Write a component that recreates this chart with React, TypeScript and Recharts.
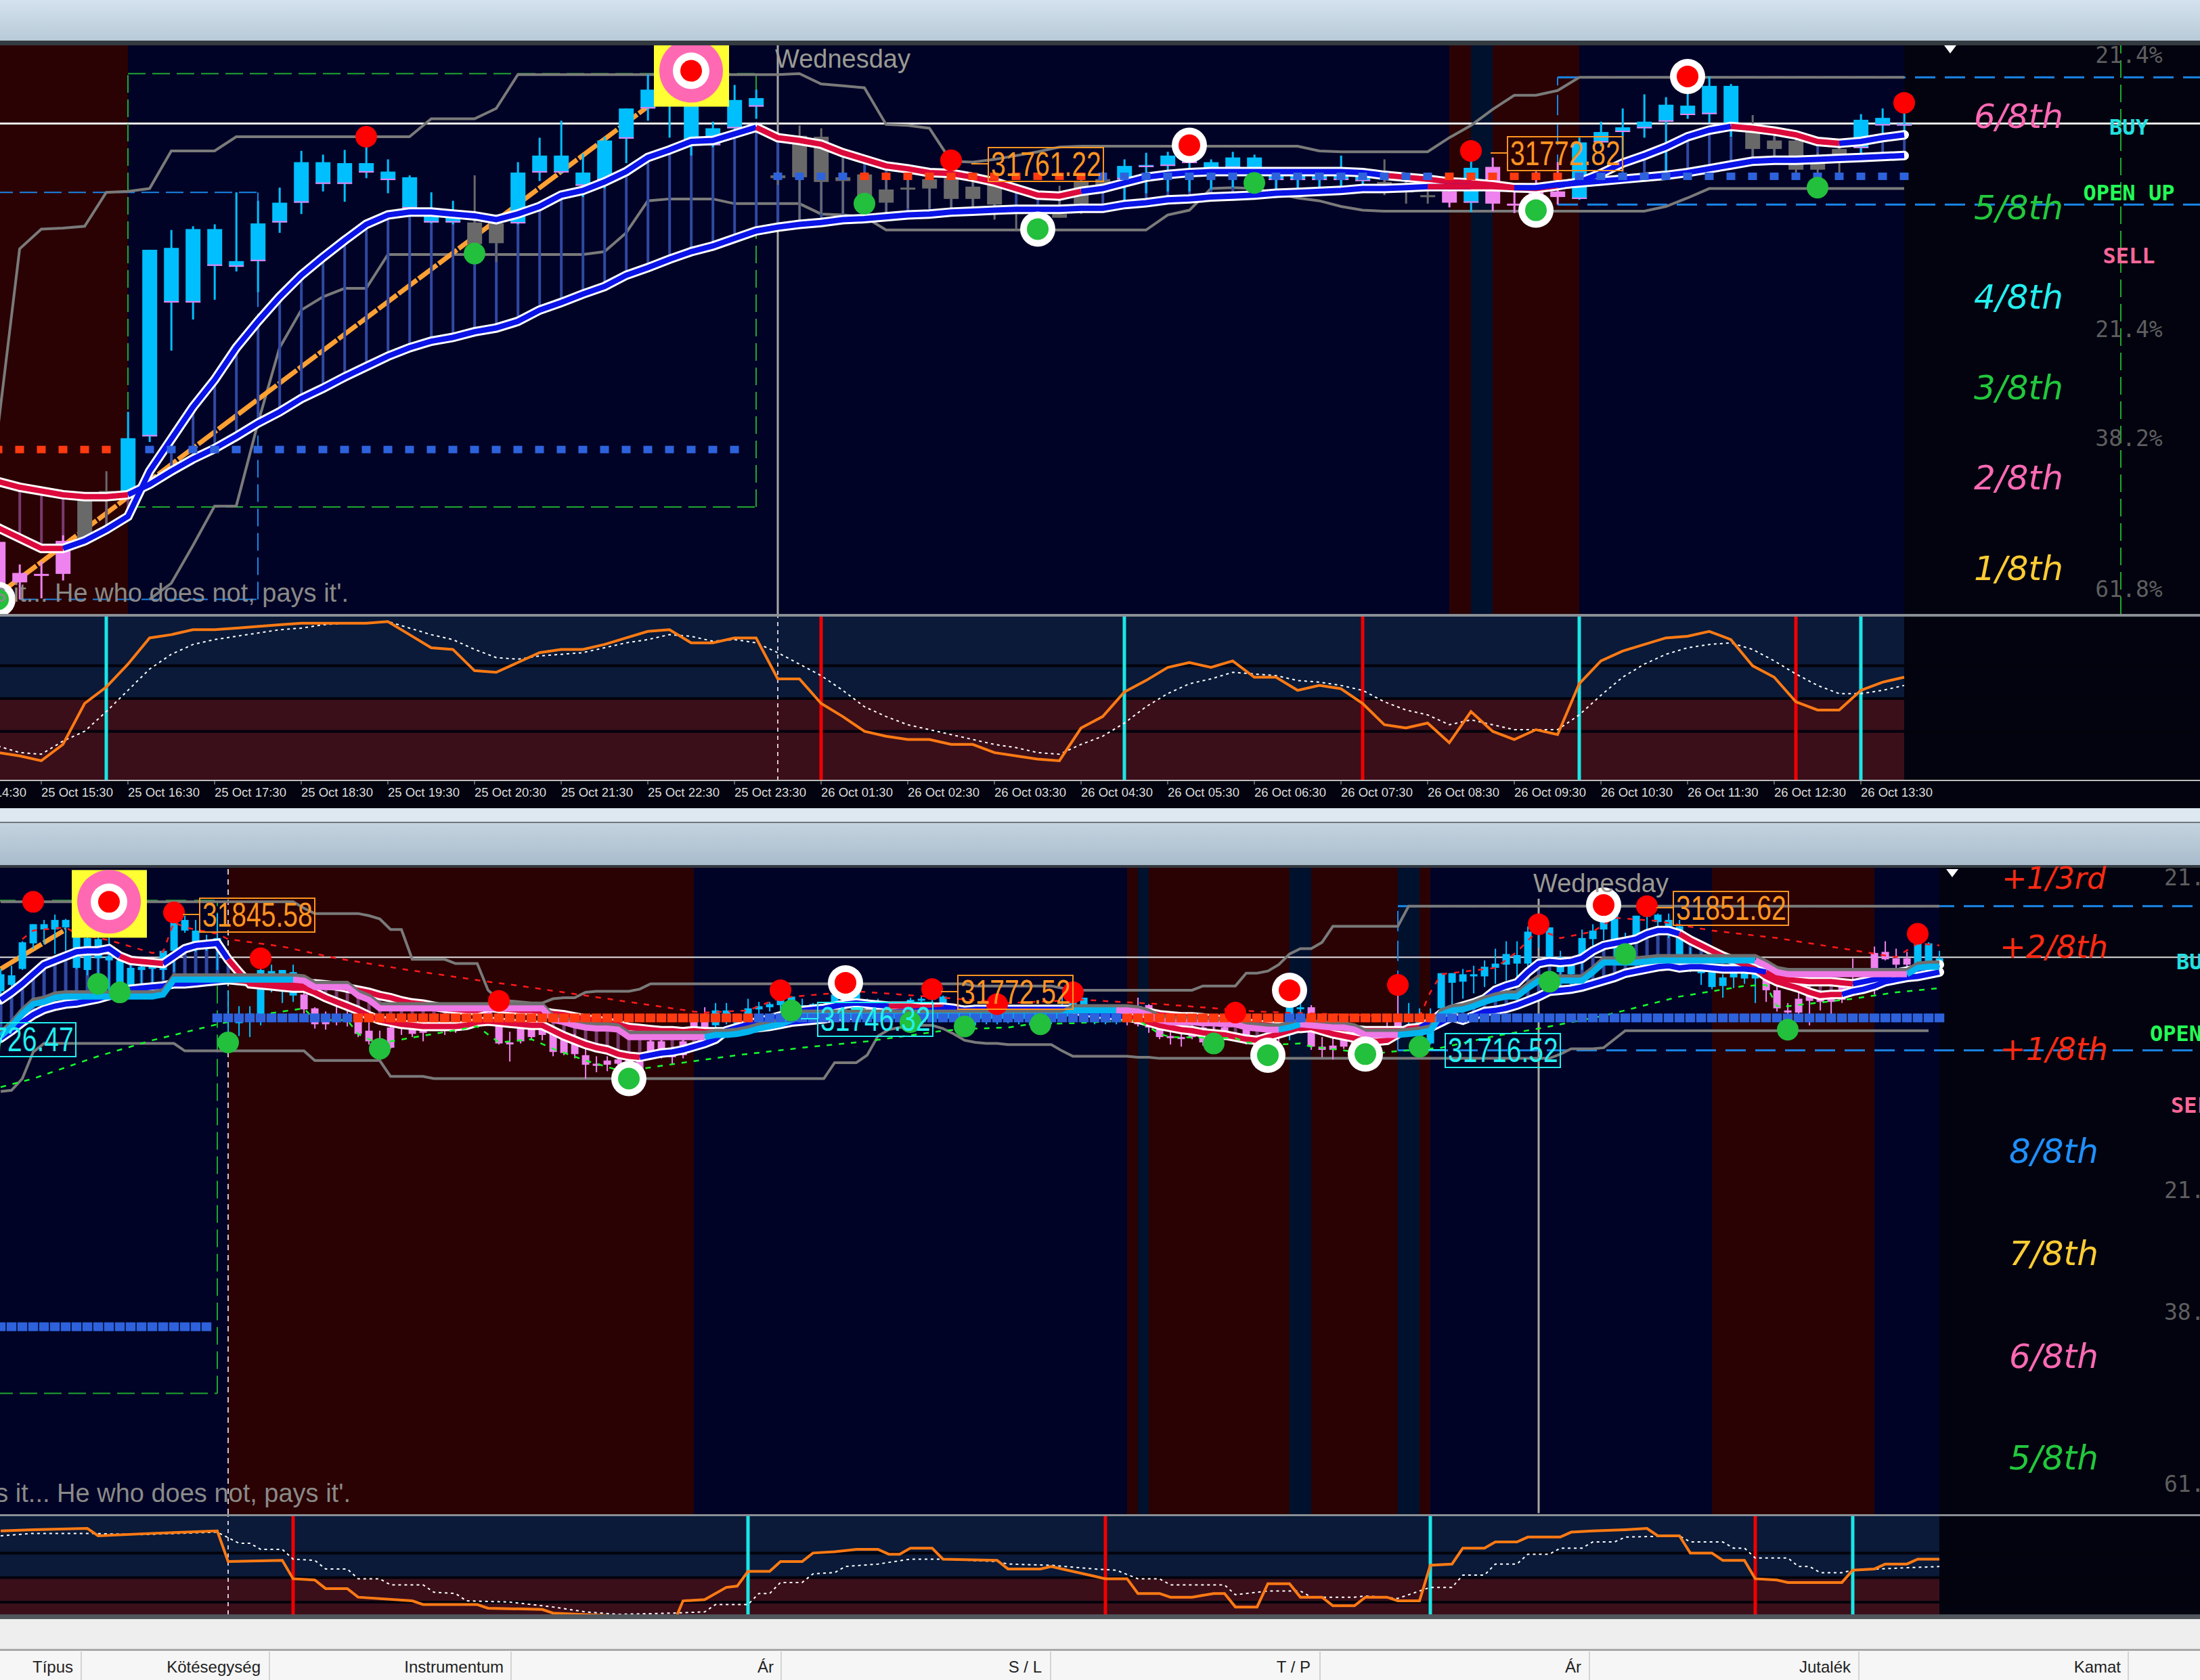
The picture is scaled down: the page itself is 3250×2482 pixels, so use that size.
import React from "react";
import { ComposedChart, Bar, Line, XAxis, YAxis, ReferenceArea, ReferenceLine } from "recharts";

const BASE = 31000; // every level below is "points above 31000"

// ---------- upper window: [high, bodyTop, bodyBottom, low] per 15-minute bar ----------
const topCandles = [
[366,359,309,292],[335,326,316,298],[338,325,324,299],[366,360,325,318],[411,403,363,360],[434,413,411,372],[497,469,411,411],[669,669,471,465],[690,671,613,562],[694,691,613,595],
[696,691,652,616],[730,657,651,646],[721,697,657,624],[735,719,698,687],[774,762,719,707],[770,762,739,731],[775,761,739,720],[789,761,751,745],[765,752,743,729],[748,746,713,710],
[730,711,698,697],[721,704,698,696],[748,698,675,656],[701,697,676,656],[762,751,697,696],[788,769,751,742],[806,769,751,750],[771,751,737,725],[789,785,743,734],[819,819,787,761],
[855,839,819,806],[839,839,822,788],[859,822,785,769],[805,798,780,778],[844,828,798,797],[839,830,821,808],[752,748,745,738],[801,790,746,696],[798,789,741,707],[770,746,742,707],
[752,749,719,710],[747,733,719,701],[750,735,733,713],[755,744,734,713],[767,745,723,710],[747,736,723,707],[747,738,717,701],[717,709,707,690],[715,709,707,688],[737,707,703,703],
[744,741,718,707],[752,744,738,730],[765,758,744,721],[772,759,758,729],[773,769,758,731],[779,769,761,731],[765,762,754,733],[773,767,756,735],[770,767,744,724],[750,748,743,724],
[750,748,743,727],[750,748,743,730],[769,748,743,730],[752,749,742,730],[765,741,740,727],[747,732,730,718],[733,727,726,718],[750,731,719,714],[774,756,719,709],[767,757,718,710],
[731,718,717,708],[752,733,716,708],[762,731,725,717],[788,783,723,722],[805,794,783,779],[819,799,794,758],[834,805,798,788],[831,823,805,752],[853,822,812,808],[853,843,813,804],
[845,843,802,789],[812,794,776,768],[790,785,776,768],[789,785,754,751],[772,769,754,733],[781,776,769,750],[813,807,777,770],[819,809,801,790],[823,803,802,788],
];
const topCandleKinds = [[0,3,"p"],[4,5,"g"],[6,21,"u"],[22,23,"g"],[24,35,"u"],[36,51,"g"],[52,63,"u"],[64,66,"g"],[67,67,"p"],[68,68,"u"],[69,72,"p"],[73,80,"u"],[81,85,"g"],[86,88,"u"]];
const topFast = [374,363,352,352,360,372,386,434,468,502,531,565,593,619,642,661,679,696,706,709,709,707,705,701,707,715,727,732,741,752,767,775,784,785,792,799,788,785,781,772,765,758,755,751,750,746,741,734,727,726,731,734,740,746,749,751,752,752,752,752,752,752,752,751,748,746,744,741,740,738,735,734,737,741,750,761,769,778,789,796,800,798,795,791,784,782,784,788,791];
const topSlow = [423,417,413,409,407,407,409,420,434,447,458,471,485,497,511,522,534,545,556,565,572,576,582,586,593,605,613,622,630,642,650,659,667,673,681,689,693,696,698,701,702,704,706,707,709,710,711,712,712,712,713,713,717,719,722,723,725,726,727,729,730,731,732,734,734,735,736,736,736,736,735,735,738,740,742,744,746,748,751,755,759,763,764,764,765,766,767,768,769];
const topFastRed = [[0,3],[35,50],[64,67],[68,72],[80,85]];
const topSlowRed = [[0,6],[66,67],[68,70]];
const topChannelUp = [480,670,691,692,694,730,731,734,774,774,774,789,789,789,789,789,789,789,789,789,808,808,808,819,855,855,855,855,855,855,855,855,855,855,855,855,855,856,845,843,841,802,801,798,763,762,765,769,773,778,779,779,779,779,779,779,779,779,779,779,779,774,773,773,773,773,773,788,801,818,833,833,838,852,852,852,852,852,852,852,852,852,852,852,852,852,852,852,852];
const topChannelLow = [null,null,null,null,null,null,null,298,315,355,397,397,485,565,605,619,628,628,664,664,664,664,664,664,664,664,664,664,667,687,721,723,723,723,718,718,718,718,707,706,704,690,690,690,690,690,690,690,690,690,690,690,690,690,706,711,734,735,734,729,724,721,715,711,710,710,710,710,710,710,710,710,710,710,710,710,710,715,724,734,734,734,734,734,734,734,734,734,734];
const topTrend = [[0,303],[30,821]];
const topSquares = [[0,5,457,"r"],[7,34,457,"b"],[36,39,747,"b"],[40,50,747,"r"],[51,66,747,"b"],[67,72,747,"r"],[73,88,747,"b"]];
const topRedDots = [[17,789],[44,764],[68,774],[88,825]];
const topRedRings = [[55,780],[78,853]];
const topGreenDots = [[22,665],[40,718],[58,740],[84,735]];
const topGreenRings = [[0,298],[48,691],[71,711]];
const topBullseye = [[32,859]];
const topRedZones = [[-3.5,6],[67,68],[69,73]];
const topNavyStripes = [[68,69]];

// indicator under the upper window (0-100)
const topOsc = [17,15,12,22,47,57,71,87,89,92,92,93,94,95,96,96,96,96,97,89,81,80,67,66,72,78,80,80,83,87,91,92,84,84,87,87,62,62,47,39,30,27,25,25,22,22,17,15,13,12,32,39,54,61,69,72,69,73,63,63,55,58,56,47,34,32,35,23,42,30,25,31,28,59,73,79,83,87,88,91,86,70,63,48,43,43,55,60,63];
const topSignal = [21,17,16,24,30,42,55,68,77,83,86,88,90,92,93,95,96,96,97,93,89,86,80,75,74,76,77,78,81,84,86,89,88,85,86,84,78,71,64,55,45,39,34,31,28,25,22,20,17,16,22,27,35,45,53,59,62,66,65,64,61,60,58,55,48,43,40,34,37,34,31,31,31,40,52,63,71,77,81,83,84,80,73,65,58,53,53,55,58];
const topCyanMarks = [5,52,73,86];
const topRedMarks = [38,63,83];
const topTickBars = [-2,2,6,10,14,18,22,26,30,34,38,42,46,50,54,58,62,66,70,74,78,82,86];
const topTickLabels = ["25 Oct 14:30","25 Oct 15:30","25 Oct 16:30","25 Oct 17:30","25 Oct 18:30","25 Oct 19:30","25 Oct 20:30","25 Oct 21:30","25 Oct 22:30","25 Oct 23:30","26 Oct 01:30","26 Oct 02:30","26 Oct 03:30","26 Oct 04:30","26 Oct 05:30","26 Oct 06:30","26 Oct 07:30","26 Oct 08:30","26 Oct 09:30","26 Oct 10:30","26 Oct 11:30","26 Oct 12:30","26 Oct 13:30"];

// ---------- lower window: [high, bodyTop, bodyBottom, low] per bar ----------
const lowCandles = [
[793,788,772,766],[796,787,778,771],[819,818,793,792],[835,835,817,812],[839,835,830,816],[844,839,830,807],[840,839,832,810],[838,832,794,793],[837,822,792,787],[832,821,803,771],
[855,805,801,771],[802,801,777,772],[798,794,777,775],[801,795,792,776],[799,797,793,776],[811,810,792,783],[845,838,810,790],[843,839,829,827],[839,829,817,809],[825,818,815,810],
[845,822,817,792],[773,747,744,720],[758,750,742,730],[758,751,746,729],[801,792,745,740],[797,791,779,771],[792,792,774,761],[797,790,768,762],[773,769,755,751],[757,756,741,737],
[753,746,741,736],[763,747,743,740],[756,747,743,739],[750,749,732,729],[743,735,725,722],[735,723,720,717],[739,738,719,718],[750,739,737,731],[741,738,732,729],[741,738,733,725],
[749,741,737,735],[751,741,735,731],[750,744,735,733],[755,754,743,741],[753,751,744,742],[756,754,745,741],[748,748,723,722],[734,724,723,706],[747,741,725,723],[742,741,729,726],
[747,737,731,726],[738,737,715,711],[729,728,714,712],[732,728,713,709],[718,712,703,690],[711,704,702,696],[711,707,703,697],[709,708,704,700],[709,708,695,689],[711,710,695,691],
[737,725,710,709],[736,725,713,709],[720,712,711,703],[738,725,712,709],[751,748,734,733],[757,749,737,734],[761,754,740,734],[761,754,743,741],[751,745,741,737],[765,756,743,741],
[762,758,755,749],[762,760,757,753],[771,767,759,751],[767,767,747,745],[765,759,748,746],[761,760,750,749],[760,755,747,745],[775,769,754,751],[778,776,768,766],[778,776,760,758],
[765,760,756,754],[765,761,756,754],[762,760,756,754],[758,756,751,749],[766,764,753,750],[767,765,764,760],[772,767,764,760],[768,767,755,753],[759,757,753,751],[755,754,749,745],
[752,749,743,740],[755,749,744,741],[754,750,743,741],[750,749,744,742],[749,748,744,741],[749,748,743,740],[748,747,743,741],[749,748,744,741],[768,756,748,745],[768,765,749,746],
[766,766,757,745],[750,748,743,741],[749,748,743,741],[750,749,743,741],[751,749,743,740],[766,758,741,739],[760,759,738,733],[740,739,729,727],[737,730,728,722],[733,729,728,720],
[741,739,729,727],[739,738,724,721],[739,732,724,718],[743,738,729,726],[729,729,728,726],[736,736,724,722],[726,725,718,715],[733,732,719,710],[737,732,730,720],[772,757,731,726],
[767,757,756,745],[759,757,720,717],[729,720,717,710],[728,721,717,708],[732,728,720,718],[728,727,717,714],[724,717,711,709],[739,728,711,709],[750,738,736,733],[781,747,736,733],
[761,750,744,741],[756,750,730,718],[756,748,723,722],[789,789,756,751],[789,789,780,756],[793,788,781,765],[796,788,786,770],[801,795,786,776],[812,798,794,779],[819,807,797,782],
[819,806,798,783],[833,828,798,792],[843,833,827,813],[832,832,804,798],[810,804,790,777],[804,804,788,775],[830,822,801,792],[835,829,821,815],[852,848,830,820],[848,848,812,804],
[827,819,812,802],[843,843,822,819],[852,845,842,830],[845,844,837,830],[845,839,832,822],[839,833,805,803],[813,802,794,790],[807,798,789,778],[798,790,776,774],[788,785,777,766],
[795,791,785,775],[794,791,784,779],[794,789,784,761],[788,787,773,762],[783,773,756,753],[761,754,753,732],[771,765,752,750],[779,769,763,740],[773,769,762,754],[771,766,762,750],
[781,777,764,761],[803,783,777,771],[790,783,772,771],[814,808,773,769],[819,809,802,801],[812,803,797,788],[809,803,797,790],[824,819,798,797],[818,817,798,797],[810,803,799,794],
];
const lowCandleKinds = [[0,27,"u"],[28,65,"p"],[66,103,"u"],[104,118,"p"],[119,120,"u"],[121,129,"p"],[130,162,"u"],[163,176,"p"],[177,179,"u"]];
const lowFast = [764,771,779,788,797,801,805,809,810,810,812,805,801,800,799,798,805,812,815,816,817,802,790,779,778,777,776,775,775,771,766,762,758,754,749,745,743,741,740,739,739,739,739,740,743,
744,743,742,741,740,740,735,730,726,722,719,717,713,711,710,712,714,715,717,720,723,727,735,738,741,744,746,749,751,754,755,756,758,760,761,760,759,758,758,758,757,757,757,756,754,
754,754,754,754,754,754,754,754,754,754,753,751,750,749,748,746,743,740,738,736,735,733,732,731,729,727,726,729,732,735,738,738,735,732,730,728,726,725,726,732,737,738,743,751,755,
758,761,765,773,777,780,790,798,800,799,800,803,810,815,817,819,821,826,829,829,826,820,815,810,805,801,797,793,786,781,778,775,771,768,769,769,772,774,777,781,783,785,786,788,790];
const lowSlow = [728,735,743,750,755,758,760,761,763,765,768,772,774,775,776,777,779,779,780,781,782,783,782,781,780,780,780,780,779,779,778,777,775,773,771,768,766,763,761,760,758,756,755,754,754,
757,756,755,754,754,753,751,750,748,746,745,743,741,738,737,736,735,735,734,735,734,734,734,735,737,738,739,741,743,744,745,746,748,749,750,751,751,752,753,753,754,754,755,755,754,
755,755,755,755,755,755,755,755,755,755,755,754,754,754,754,753,752,750,749,748,748,747,746,745,743,742,741,740,739,738,737,738,738,738,737,736,735,735,735,735,735,735,738,743,748,
745,749,753,754,756,759,763,767,772,773,774,776,779,782,785,789,791,793,795,796,794,795,795,794,793,793,793,792,790,786,783,782,781,781,781,780,779,781,783,785,789,791,793,795,797];
const lowFastRed = [[11,15],[21,59],[82,87],[104,131],[155,170]];
const lowSlowRed = [[21,66],[104,131],[163,171]];
const lowBand = [730,739,751,760,762,766,767,767,767,767,767,767,767,767,767,769,783,783,783,783,783,783,783,783,783,783,783,783,782,776,776,776,776,768,764,756,756,756,756,756,756,756,756,756,756,756,756,756,756,756,756,
745,743,740,738,737,737,736,729,729,729,729,729,729,729,729,731,731,732,734,737,739,741,745,749,749,749,749,749,749,749,749,749,749,749,749,749,749,749,749,749,749,749,749,749,749,749,749,749,
754,754,754,754,754,754,753,750,745,743,743,743,742,742,741,741,738,737,736,736,738,741,740,739,738,738,736,731,731,731,731,732,733,735,750,754,
755,758,762,765,767,767,775,782,782,782,782,782,790,799,799,799,799,800,801,801,801,801,801,801,801,801,801,801,796,790,788,788,788,788,788,788,788,788,788,788,788,788,794,795,795];
const lowBandPink = [[27,65],[103,118],[120,129],[162,176]];
const lowChannelUp = [856,856,856,856,856,856,856,856,856,856,856,856,856,856,856,856,856,856,856,856,856,856,856,856,856,856,856,856,850,845,845,845,845,845,843,840,830,830,802,802,802,802,798,798,798,
773,764,763,762,761,761,765,766,766,771,772,772,772,772,774,779,779,779,779,779,779,779,779,779,779,779,779,779,779,779,779,779,779,779,779,779,779,779,779,779,779,779,779,779,779,
777,777,777,777,777,777,777,777,775,774,773,773,773,773,773,773,773,773,773,773,773,777,777,777,777,789,789,791,797,807,812,812,818,833,833,833,833,833,833,833,
852,852,852,852,852,852,852,852,852,852,852,852,852,852,852,852,852,852,852,852,852,852,852,852,852,852,852,852,852,852,852,852,852,852,852,852,852,852,852,852,852,852,852,852,852,852,852,852,852,852];
const lowChannelLow = [678,679,690,715,723,723,723,723,723,723,723,723,723,723,723,723,723,716,716,716,716,716,716,716,716,716,716,716,716,707,707,707,707,707,707,707,692,692,692,692,690,
690,690,690,690,690,690,690,690,690,690,690,690,690,690,690,690,690,690,690,690,690,690,690,690,690,690,690,690,690,690,690,690,690,690,690,690,705,705,705,712,730,736,738,739,740,740,737,732,726,
724,723,723,722,722,722,722,722,716,711,711,711,711,711,711,710,710,709,709,709,709,709,709,709,709,709,709,709,709,709,709,709,709,709,709,709,709,709,709,709,709,709,709,709,709,709,709,709,709,709,709,709,709,
709,713,718,718,718,719,727,735,735,735,735,735,735,735,735,735,735,735,735,735,735,735,735,735,735,735,735,735,735,735,735,735,735,735,735,735];
const lowTrend = [[0,793],[6,830]];
const lowGreenDotted = [[0,682],[3,690],[9,711],[14,726],[20,741],[24,750],[28,756],[29,745],[32,745],[33,732],[35,722],[36,725],[40,732],[44,739],[46,724],[49,727],[51,718],[54,707],[57,698],[59,699],[63,705],[68,712],[74,719],[80,725],[87,735],[90,737],[93,738],[95,741],[99,742],[105,745],[107,732],[108,729],[114,728],[115,724],[118,722],[120,723],[121,720],[127,713],[128,715],[133,719],[138,730],[142,737],[148,749],[155,767],[161,777],[163,778],[164,758],[165,758],[171,765],[175,771],[179,775]];
const lowRedDotted = [[2,821],[3,829],[6,832],[7,826],[10,820],[14,808],[15,809],[16,837],[17,832],[20,826],[21,821],[26,814],[31,803],[37,793],[45,781],[48,777],[54,768],[64,753],[65,752],[69,754],[72,766],[79,772],[87,766],[93,761],[100,764],[107,760],[116,753],[127,749],[131,748],[132,771],[133,788],[138,794],[140,809],[142,830],[144,822],[147,828],[149,841],[153,838],[158,829],[164,822],[172,809],[175,804],[177,817],[179,815]];
const lowSquares = [[0,19,457,"b"],[20,32,747,"b"],[33,69,747,"r"],[70,103,747,"b"],[104,118,747,"r"],[119,120,747,"b"],[121,132,747,"r"],[133,179,747,"b"]];
const lowRedDots = [[3,856],[16,846],[24,803],[46,763],[72,773],[86,774],[92,760],[99,771],[114,752],[129,778],[142,835],[152,852],[177,826]];
const lowRedRings = [[78,780],[119,773],[148,853]];
const lowGreenDots = [[9,779],[11,771],[21,724],[35,718],[73,754],[84,743],[89,739],[96,741],[112,723],[131,720],[143,781],[150,807],[165,736]];
const lowGreenRings = [[58,690],[117,712],[126,713]];
const lowBullseye = [[10,856]];
const lowRedZones = [[21,64],[104,105],[106,119],[121,129],[131,132],[158,173]];
const lowNavyStripes = [[105,106],[119,121],[129,131]];
const lowOsc = [[0,88],[3,89],[8,90],[9,84],[14,86],[20,88],[21,63],[26,64],[27,49],[29,48],[30,41],[32,41],[33,34],[38,31],[39,28],[44,28],[45,25],[50,24],[51,21],[56,19],[62,10],[63,31],[65,32],[67,42],[68,43],[69,55],[71,55],[72,63],[74,63],[75,70],[77,71],[79,73],[81,73],[82,69],[83,69],[84,74],[86,74],[87,65],[92,64],[93,57],[96,57],[97,59],[98,57],[101,51],[102,49],[104,49],[105,37],[107,37],[108,34],[110,34],[112,37],[113,37],[114,26],[116,26],[117,45],[119,45],[120,34],[122,34],[123,27],[125,27],[126,34],[128,34],[129,31],[131,31],[132,60],[134,61],[135,74],[137,74],[138,79],[140,79],[141,83],[144,83],[145,87],[147,88],[150,89],[152,90],[153,84],[155,84],[156,70],[158,70],[159,64],[161,64],[162,49],[164,48],[165,46],[170,46],[171,56],[173,57],[174,61],[176,61],[177,65],[179,65]];
const lowSignal = [[0,84],[3,86],[8,86],[13,85],[20,87],[22,78],[23,78],[24,73],[26,73],[27,65],[29,64],[30,57],[32,57],[33,49],[35,49],[36,44],[39,44],[40,38],[42,37],[43,31],[47,30],[51,26],[54,22],[57,20],[62,21],[65,22],[66,28],[69,28],[70,37],[71,37],[72,46],[74,46],[75,53],[77,54],[78,59],[81,61],[84,65],[87,65],[92,63],[93,61],[97,60],[101,57],[103,56],[105,49],[107,49],[108,44],[113,44],[114,36],[117,39],[120,39],[121,34],[125,34],[126,35],[129,33],[132,42],[134,42],[135,52],[137,52],[138,61],[140,61],[141,69],[143,69],[144,74],[146,74],[147,79],[149,79],[150,83],[155,84],[156,79],[159,79],[160,74],[161,74],[162,66],[165,66],[166,59],[167,59],[168,54],[170,54],[171,56],[176,58],[179,59]];
const lowCyanMarks = [69,132,171];
const lowRedMarks = [27,102,162];

// text
const quote = "'He who understands it, earns it... He who does not, pays it'.";
const topEighths = [["6/8th",172,"#ff69b4",50],["5/8th",307,"#22c83c",50],["4/8th",439,"#22f0f0",50],["3/8th",573,"#22c83c",50],["2/8th",706,"#ff69b4",50],["1/8th",840,"#ffcc33",50]];
const lowEighths = [["+1/3rd",1298,"#ff2a12",44],["+2/8th",1399,"#ff2a12",46],["+1/8th",1550,"#ff2a12",46],["8/8th",1701,"#1e90ff",50],["7/8th",1852,"#ffcc33",50],["6/8th",2004,"#ff69b4",50],["5/8th",2154,"#22c83c",50]];
const topFibs = [["21.4%",81],["21.4%",486],["38.2%",647],["61.8%",870]];
const lowFibs = [["21.4%",1296],["21.4%",1758],["38.2%",1938],["61.8%",2192]];
const priceTags = [
  ["31761.22",1459,217,"#ff9420"],["31772.82",2226,201,"#ff9420"],["31845.58",294,1326,"#ff9420"],["31726.47",-59,1510,"#22f0f0"],
  ["31772.52",1414,1440,"#ff9420"],["31746.32",1207,1480,"#22f0f0"],["31716.52",2134,1526,"#22f0f0"],["31851.62",2471,1316,"#ff9420"],
];
const headers = [["Típus",108],["Kötésegység",385],["Instrumentum",744],["Ár",1143],["S / L",1539],["T / P",1936],["Ár",2336],["Jutalék",2734],["Kamat",3133]];
const headerDividers = [119,397,754,1153,1551,1949,2347,2745,3143];

const CYAN = "#00bfff", PINK = "#ee82ee", GRAY = "#696969", NAVY = "#000326", DARKRED = "#2a0204";
const BLUE = "#0a14e6", RIBBON_RED = "#dc0a3c", SQ_BLUE = "#2e62dc", SQ_RED = "#ff3a10", DASH_BLUE = "#1a86e8", BOX_GREEN = "#1fa82f";

const inRanges = (i: number, ranges: any[]) => ranges.some((r) => i >= r[0] && i <= r[1]);
const strictlyIn = (i: number, ranges: any[]) => ranges.some((r) => i > r[0] && i < r[1]);

function buildPriceRows(first: number, last: number, s: any) {
  const rows: any[] = [];
  for (let i = first; i <= last; i++) rows.push({ x: i });
  const at = (i: number) => rows[i - first];
  const price = (v: any) => (v == null ? null : BASE + v);
  s.candles.forEach((c: number[], i: number) => {
    const d = at(i);
    d.hi = price(c[0]); d.bt = price(c[1]); d.bb = price(c[2]); d.lo = price(c[3]);
    const kind = s.kinds.find((r: any) => i >= r[0] && i <= r[1]);
    d.kind = kind ? kind[2] : "u";
    const f = s.fast[i], l = s.slow[i];
    d.fast = price(f); d.slow = price(l);
    d.fastRed = inRanges(i, s.fastRed) ? price(f) : null;
    d.fastBlue = strictlyIn(i, s.fastRed) ? null : price(f);
    d.slowRed = inRanges(i, s.slowRed) ? price(l) : null;
    d.slowBlue = strictlyIn(i, s.slowRed) ? null : price(l);
    d.chanUp = price(s.up[i]); d.chanLow = price(s.low[i]);
    if (s.band) {
      const b = s.band[i];
      d.bandPink = inRanges(i, s.bandPink) ? price(b) : null;
      d.bandCyan = strictlyIn(i, s.bandPink) ? null : price(b);
      d.bandGray = b == null ? null : price(b + 4);
    }
  });
  const put = (key: string, list: any[]) => list.forEach((p) => { at(p[0])[key] = price(p[1]); });
  put("trend", s.trend); put("redDot", s.redDots); put("redRing", s.redRings);
  put("greenDot", s.greenDots); put("greenRing", s.greenRings); put("bull", s.bull);
  if (s.greenDotted) put("greenDotted", s.greenDotted);
  if (s.redDotted) put("redDotted", s.redDotted);
  s.squares.forEach((q: any) => {
    for (let i = q[0]; i <= q[1]; i++) at(i)[q[3] === "r" ? "sqRed" : "sqBlue"] = price(q[2]);
  });
  return rows;
}

function buildDenseOscRows(first: number, last: number, osc: any[], sig: any[]) {
  const rows: any[] = [];
  for (let i = first; i <= last; i++) rows.push({ x: i, osc: i >= 0 ? osc[i] : undefined, sig: i >= 0 ? sig[i] : undefined });
  return rows;
}
function buildSparseOscRows(first: number, last: number, osc: any[], sig: any[]) {
  const rows: any[] = [];
  for (let i = first; i <= last; i++) rows.push({ x: i });
  osc.forEach((p) => { rows[p[0] - first].osc = p[1]; });
  sig.forEach((p) => { rows[p[0] - first].sig = p[1]; });
  return rows;
}

const candleShape = (bodyW: number, wickW: number, edge: boolean) => (p: any) => {
  const d = p.payload;
  if (!d || d.hi == null) return <g />;
  const unit = Math.abs(p.height) / (d.hi - d.lo);
  const top = Math.min(p.y, p.y + p.height);
  const cx = p.x + p.width / 2;
  const color = d.kind === "u" ? CYAN : d.kind === "p" ? PINK : GRAY;
  const by = top + (d.hi - d.bt) * unit;
  const bh = Math.max((d.bt - d.bb) * unit, 3);
  return (
    <g>
      <rect x={cx - wickW / 2} y={top} width={wickW} height={Math.abs(p.height)} fill={color} />
      <rect x={cx - bodyW / 2} y={by} width={bodyW} height={bh} fill={color} />
      {edge && d.kind === "u" ? <rect x={cx - bodyW / 2} y={by + bh - 2} width={bodyW} height={2} fill={PINK} /> : null}
    </g>
  );
};
const histShape = (w: number) => (p: any) => {
  const d = p.payload;
  if (!d || d.fast == null) return <g />;
  const cx = p.x + p.width / 2;
  return <rect x={cx - w / 2} y={Math.min(p.y, p.y + p.height)} width={w} height={Math.abs(p.height)} fill={d.fast < d.slow ? "#7a3b6f" : "#3049a3"} />;
};
const empty = (p: any) => p.cy == null || p.value == null;
const squareDot = (w: number, h: number, fill: string) => (p: any) =>
  empty(p) ? <g key={p.index} /> : <rect key={p.index} x={p.cx - w / 2} y={p.cy - h / 2} width={w} height={h} fill={fill} />;
const circleDot = (fill: string) => (p: any) =>
  empty(p) ? <g key={p.index} /> : <circle key={p.index} cx={p.cx} cy={p.cy} r={16} fill={fill} />;
const ringDot = (fill: string) => (p: any) =>
  empty(p) ? <g key={p.index} /> : (
    <g key={p.index}><circle cx={p.cx} cy={p.cy} r={26} fill="#ffffff" /><circle cx={p.cx} cy={p.cy} r={16} fill={fill} /></g>
  );
const bullDot = (p: any) =>
  empty(p) ? <g key={p.index} /> : (
    <g key={p.index}>
      <rect x={p.cx - 55} y={p.cy - 47} width={111} height={100} fill="#ffff33" />
      <circle cx={p.cx} cy={p.cy} r={47} fill="#ff69b4" />
      <circle cx={p.cx} cy={p.cy} r={27} fill="#ffffff" />
      <circle cx={p.cx} cy={p.cy} r={16} fill="#ff0000" />
    </g>
  );

function series(key: string, color: string, width: number, z: number, extra: any = {}) {
  return <Line key={key + z} dataKey={key} stroke={color} strokeWidth={width} dot={false} activeDot={false} isAnimationActive={false} legendType="none" zIndex={z} {...extra} />;
}
function markers(key: string, dot: any, z: number) {
  return <Line key={key + z} dataKey={key} stroke="none" dot={dot} activeDot={false} isAnimationActive={false} legendType="none" zIndex={z} />;
}

function PricePanel({ rows, cfg, children }: any) {
  return (
    <div style={{ position: "absolute", left: 0, top: cfg.top, width: 3250, height: cfg.height, overflow: "hidden" }}>
      <div style={{ position: "absolute", left: cfg.left, top: 0 }}>
        <ComposedChart width={cfg.width} height={cfg.height} data={rows} margin={{ top: 0, right: 0, bottom: 0, left: 0 }}>
          <XAxis dataKey="x" hide />
          <XAxis xAxisId="hist" dataKey="x" hide />
          <XAxis xAxisId="n" dataKey="x" type="number" domain={cfg.xDomain} allowDataOverflow hide />
          <YAxis type="number" domain={cfg.yDomain} allowDataOverflow hide />
          <ReferenceArea xAxisId="n" x1={cfg.xDomain[0]} x2={cfg.end} fill={NAVY} fillOpacity={1} stroke="none" zIndex={1} />
          {cfg.redZones.map((r: number[], i: number) => <ReferenceArea key={"rz" + i} xAxisId="n" x1={r[0]} x2={r[1]} fill={DARKRED} fillOpacity={1} stroke="none" zIndex={2} />)}
          {cfg.stripes.map((r: number[], i: number) => <ReferenceArea key={"st" + i} xAxisId="n" x1={r[0]} x2={r[1]} fill="#00112e" fillOpacity={1} stroke="none" zIndex={2} />)}
          {children}
          {markers("sqBlue", squareDot(cfg.sqW, cfg.sqH, SQ_BLUE), 20)}
          {markers("sqRed", squareDot(cfg.sqW, cfg.sqH, SQ_RED), 20)}
          {series("chanUp", "#7a7a7a", 4, 22, {})}
          {series("chanLow", "#7a7a7a", 4, 22, {})}
          {markers("bull", bullDot, 24)}
          {markers("redDot", circleDot("#ff0000"), 25)}
          {markers("redRing", ringDot("#ff0000"), 25)}
          {markers("greenDot", circleDot("#22c03c"), 25)}
          {markers("greenRing", ringDot("#22c03c"), 25)}
          {series("trend", "#ffa033", 7, 27, { connectNulls: true, strokeDasharray: "34 3" })}
          <Bar xAxisId="hist" dataKey={(d: any) => (d.fast == null ? null : [Math.min(d.fast, d.slow), Math.max(d.fast, d.slow)])} shape={histShape(cfg.histW)} isAnimationActive={false} legendType="none" zIndex={28} />
          <Bar dataKey={(d: any) => (d.hi == null ? null : [d.lo, d.hi])} shape={candleShape(cfg.bodyW, cfg.wickW, cfg.edge)} isAnimationActive={false} legendType="none" zIndex={29} />
          {series("fast", "#ffffff", cfg.ribbon + 6, 30, { strokeLinecap: "round" })}
          {series("slow", "#ffffff", cfg.ribbon + 6, 30, { strokeLinecap: "round" })}
          {series("fastBlue", BLUE, cfg.ribbon, 31)}
          {series("fastRed", RIBBON_RED, cfg.ribbon, 31)}
          {series("slowBlue", BLUE, cfg.ribbon, 31)}
          {series("slowRed", RIBBON_RED, cfg.ribbon, 31)}
          {cfg.hasBand ? series("bandGray", "#6e6e6e", 6, 33) : null}
          {cfg.hasBand ? series("bandCyan", "#00b4f0", 9, 34) : null}
          {cfg.hasBand ? series("bandPink", "#ee78e6", 9, 34) : null}
          {cfg.hasBand ? series("greenDotted", "#14ff2c", 2.5, 35, { connectNulls: true, strokeDasharray: "8 10" }) : null}
          {cfg.hasBand ? series("redDotted", "#ff1a1a", 2.5, 35, { connectNulls: true, strokeDasharray: "8 10" }) : null}
        </ComposedChart>
      </div>
    </div>
  );
}

function segment(id: string, x1: number, y1: number, x2: number, y2: number, stroke: string, w: number, dash?: string, z = 12) {
  return (
    <ReferenceLine key={id} xAxisId="n" segment={[{ x: x1, y: BASE + y1 }, { x: x2, y: BASE + y2 }]} stroke={stroke} strokeWidth={w} strokeDasharray={dash} ifOverflow="visible" zIndex={z} />
  );
}

function OscPanel({ rows, cfg }: any) {
  const tick = (p: any) => (
    <text x={p.x} y={p.y + 16} fill="#dddddd" fontSize={18.5} fontFamily="Liberation Sans" textAnchor="start">{cfg.tickText(p.payload.value)}</text>
  );
  return (
    <div style={{ position: "absolute", left: 0, top: cfg.top, width: 3250, height: cfg.height + (cfg.axisH || 0), overflow: "hidden" }}>
      <div style={{ position: "absolute", left: cfg.left, top: 0 }}>
        <ComposedChart width={cfg.width} height={cfg.height + (cfg.axisH || 0)} data={rows} margin={{ top: 0, right: 0, bottom: 0, left: 0 }}>
          {cfg.axisH ? (
            <XAxis dataKey="x" scale="band" height={cfg.axisH} ticks={cfg.ticks} interval={0} tick={tick} tickLine={{ stroke: "#bbbbbb" }} tickSize={6} axisLine={{ stroke: "#bbbbbb", strokeWidth: 2 }} />
          ) : <XAxis dataKey="x" scale="band" hide />}
          <XAxis xAxisId="n" dataKey="x" type="number" domain={cfg.xDomain} allowDataOverflow hide />
          <YAxis type="number" domain={cfg.yDomain} allowDataOverflow hide />
          <ReferenceArea xAxisId="n" x1={cfg.xDomain[0]} x2={cfg.end} y1={50} y2={cfg.yDomain[1]} fill="#0a1a38" fillOpacity={1} stroke="none" zIndex={1} />
          <ReferenceArea xAxisId="n" x1={cfg.xDomain[0]} x2={cfg.end} y1={cfg.yDomain[0]} y2={50} fill="#3a0f1a" fillOpacity={1} stroke="none" zIndex={1} />
          <ReferenceLine xAxisId="n" y={70} stroke="#03030c" strokeWidth={4} zIndex={2} />
          <ReferenceLine xAxisId="n" y={50} stroke="#03030c" strokeWidth={4} zIndex={2} />
          <ReferenceLine xAxisId="n" y={30} stroke="#03030c" strokeWidth={4} zIndex={2} />
          <ReferenceLine xAxisId="n" x={cfg.dashed} stroke="#d8c8d8" strokeWidth={2} strokeDasharray="6 6" zIndex={3} />
          {cfg.cyan.map((x: number) => <ReferenceLine key={"c" + x} xAxisId="n" x={x} stroke="#19e6e6" strokeWidth={5} zIndex={4} />)}
          {cfg.red.map((x: number) => <ReferenceLine key={"r" + x} xAxisId="n" x={x} stroke="#f00000" strokeWidth={5} zIndex={4} />)}
          <Line dataKey="sig" stroke="#ffffff" strokeWidth={2} strokeDasharray="4 5" dot={false} activeDot={false} connectNulls isAnimationActive={false} legendType="none" zIndex={5} />
          <Line dataKey="osc" stroke="#ff7a14" strokeWidth={4} dot={false} activeDot={false} connectNulls isAnimationActive={false} legendType="none" zIndex={6} />
        </ComposedChart>
      </div>
    </div>
  );
}

function Txt({ x, y, children, color, size, family, anchor = "start", style }: any) {
  const tx = anchor === "middle" ? "-50%" : anchor === "end" ? "-100%" : "0";
  return (
    <div style={{ position: "absolute", left: x, top: y, transform: `translate(${tx},-50%)`, color, fontSize: size, fontFamily: family || "Liberation Sans", whiteSpace: "nowrap", lineHeight: 1, ...style }}>{children}</div>
  );
}
function Tag({ text, x, y, color }: any) {
  return (
    <div style={{ position: "absolute", left: x, top: y, width: 168, height: 48, border: `2px solid ${color}`, display: "flex", alignItems: "center", justifyContent: "center" }}>
      <div style={{ position: "absolute", left: -26, top: 22, width: 24, height: 2, background: color }} />
      <span style={{ color, fontSize: 50, fontFamily: "Liberation Sans", display: "inline-block", transform: "scaleX(0.78)", whiteSpace: "nowrap", lineHeight: 1 }}>{text}</span>
    </div>
  );
}
const Strip = ({ y, h, bg }: any) => <div style={{ position: "absolute", left: 0, top: y, width: 3250, height: h, background: bg }} />;
const Triangle = ({ x, y }: any) => <div style={{ position: "absolute", left: x - 9, top: y, width: 0, height: 0, borderLeft: "9px solid transparent", borderRight: "9px solid transparent", borderTop: "12px solid #ffffff" }} />;

const topRows = buildPriceRows(-3, 102, {
  candles: topCandles, kinds: topCandleKinds, fast: topFast, slow: topSlow, fastRed: topFastRed, slowRed: topSlowRed,
  up: topChannelUp, low: topChannelLow, trend: topTrend, redDots: topRedDots, redRings: topRedRings, greenDots: topGreenDots,
  greenRings: topGreenRings, bull: topBullseye, squares: topSquares,
});
const lowRows = buildPriceRows(0, 203, {
  candles: lowCandles, kinds: lowCandleKinds, fast: lowFast, slow: lowSlow, fastRed: lowFastRed, slowRed: lowSlowRed,
  up: lowChannelUp, low: lowChannelLow, trend: lowTrend, redDots: lowRedDots, redRings: lowRedRings, greenDots: lowGreenDots,
  greenRings: lowGreenRings, bull: lowBullseye, squares: lowSquares, band: lowBand, bandPink: lowBandPink,
  greenDotted: lowGreenDotted, redDotted: lowRedDotted,
});
const topOscRows = buildDenseOscRows(-3, 102, topOsc, topSignal);
const lowOscRows = buildSparseOscRows(0, 203, lowOsc, lowSignal);

const topCfg = { top: 67, height: 840, left: -115.4, width: 3392, xDomain: [-3.5, 102.5], yDomain: [BASE + 282.5, BASE + 886], end: 88, redZones: topRedZones, stripes: topNavyStripes, sqW: 13, sqH: 11, histW: 4, bodyW: 22, wickW: 3, edge: true, ribbon: 8, hasBand: false };
const lowCfg = { top: 1282, height: 955, left: -7, width: 3264, xDomain: [-0.5, 203.5], yDomain: [BASE + 281, BASE + 888], end: 179, redZones: lowRedZones, stripes: lowNavyStripes, sqW: 14.5, sqH: 13, histW: 5, bodyW: 11, wickW: 2, edge: false, ribbon: 8, hasBand: true };
const topOscCfg = { top: 911, height: 242, axisH: 41, left: -115.4, width: 3392, xDomain: [-3.5, 102.5], yDomain: [0, 100], end: 88, cyan: topCyanMarks, red: topRedMarks, dashed: 36, ticks: topTickBars, tickText: (v: number) => topTickLabels[topTickBars.indexOf(v)] };
const lowOscCfg = { top: 2240, height: 145, left: -7, width: 3264, xDomain: [-0.5, 203.5], yDomain: [20, 100], end: 179, cyan: lowCyanMarks, red: lowRedMarks, dashed: 21 };

export default function App() {
  return (
    <div style={{ position: "absolute", left: 0, top: 0, width: 3250, height: 2482, overflow: "hidden", background: "#02030f" }}>
      <Strip y={0} h={60} bg="linear-gradient(#d4e2ee,#b8cad8)" />
      <Strip y={60} h={7} bg="#333a40" />
      <Strip y={907} h={4} bg="#8a8f95" />
      <Strip y={1194} h={20} bg="#dde8f0" />
      <Strip y={1214} h={2} bg="#70767c" />
      <Strip y={1216} h={62} bg="linear-gradient(#c4d3df,#a9bccc)" />
      <Strip y={1278} h={4} bg="#333a40" />
      <Strip y={2237} h={3} bg="#8a8f95" />
      <Strip y={2385} h={7} bg="#50565c" />
      <Strip y={2392} h={44} bg="#eeeeee" />
      <Strip y={2436} h={3} bg="#a8a8a8" />
      <Strip y={2439} h={43} bg="#f6f6f6" />

      <PricePanel rows={topRows} cfg={topCfg}>
        <ReferenceLine xAxisId="n" y={BASE + 803} stroke="#e8e8e8" strokeWidth={3} zIndex={12} />
        <ReferenceLine xAxisId="n" x={36} stroke="#a8a8a0" strokeWidth={3} zIndex={12} />
        <ReferenceLine xAxisId="n" x={98} stroke={BOX_GREEN} strokeWidth={2} strokeDasharray="26 10" zIndex={12} />
        {segment("g1", 6, 856, 35, 856, BOX_GREEN, 2, "26 10")}
        {segment("g2", 6, 396, 35, 396, BOX_GREEN, 2, "26 10")}
        {segment("g3", 6, 396, 6, 856, BOX_GREEN, 2, "26 10")}
        {segment("g4", 35, 396, 35, 856, BOX_GREEN, 2, "26 10")}
        {segment("b1", -3.5, 730, 12, 730, DASH_BLUE, 2, "26 10")}
        {segment("b2", 12, 298, 12, 730, DASH_BLUE, 2, "26 10")}
        {segment("b3", -3.5, 298, 12, 298, DASH_BLUE, 2, "26 10")}
        {segment("b4", 72, 852, 102.5, 852, DASH_BLUE, 3, "30 14")}
        {segment("b5", 72, 717, 72, 852, DASH_BLUE, 2, "30 14")}
        {segment("b6", 72, 717, 102.5, 717, DASH_BLUE, 3, "30 14")}
      </PricePanel>
      <OscPanel rows={topOscRows} cfg={topOscCfg} />

      <PricePanel rows={lowRows} cfg={lowCfg}>
        <ReferenceLine xAxisId="n" y={BASE + 804} stroke="#e0e0e0" strokeWidth={2} zIndex={12} />
        <ReferenceLine xAxisId="n" x={21} stroke="#c8c8c8" strokeWidth={2} strokeDasharray="8 7" zIndex={12} />
        {segment("g1", -0.5, 857, 20, 857, BOX_GREEN, 3, "30 12")}
        {segment("g2", -0.5, 394.5, 20, 394.5, BOX_GREEN, 2, "26 10")}
        {segment("g3", 20, 394.5, 20, 857, BOX_GREEN, 2, "26 10")}
        {segment("b1", 129, 852, 203.5, 852, DASH_BLUE, 3, "30 14")}
        {segment("b2", 129, 716.5, 129, 852, DASH_BLUE, 2, "30 14")}
        {segment("b3", 129, 716.5, 203.5, 716.5, DASH_BLUE, 3, "30 14")}
        {segment("v1", 142, 282, 142, 859, "#a8a8a0", 3)}
      </PricePanel>
      <OscPanel rows={lowOscRows} cfg={lowOscCfg} />

      <Txt x={1145} y={87} color="#9a9a92" size={38}>Wednesday</Txt>
      <Txt x={2265} y={1305} color="#9a9a92" size={38}>Wednesday</Txt>
      <Txt x={515} y={876} color="#8a8a88" size={38} anchor="end">{quote}</Txt>
      <Txt x={518} y={2206} color="#8a8a88" size={38} anchor="end">{quote}</Txt>
      <Triangle x={2881} y={67} />
      <Triangle x={2884} y={1284} />

      {priceTags.map((t) => <Tag key={t[0] as string} text={t[0]} x={t[1]} y={t[2]} color={t[3]} />)}

      {topEighths.map((e) => <Txt key={"t" + e[0]} x={2982} y={e[1]} color={e[2]} size={e[3]} anchor="middle" family="DejaVu Sans" style={{ fontStyle: "italic" }}>{e[0]}</Txt>)}
      {lowEighths.map((e) => <Txt key={"l" + e[0]} x={3034} y={e[1]} color={e[2]} size={e[3]} anchor="middle" family="DejaVu Sans" style={{ fontStyle: "italic" }}>{e[0]}</Txt>)}
      {topFibs.map((f, i) => <Txt key={"tf" + i} x={3145} y={f[1]} color="#5e5e5e" size={33} anchor="middle" family="DejaVu Sans Mono">{f[0]}</Txt>)}
      {lowFibs.map((f, i) => <Txt key={"lf" + i} x={3197} y={f[1]} color="#5e5e5e" size={33} family="DejaVu Sans Mono">{f[0]}</Txt>)}

      <Txt x={3145} y={188} color="#22e0e0" size={32} anchor="middle" family="DejaVu Sans Mono" style={{ fontWeight: 700 }}>BUY</Txt>
      <Txt x={3145} y={285} color="#22ff55" size={32} anchor="middle" family="DejaVu Sans Mono" style={{ fontWeight: 700 }}>OPEN UP</Txt>
      <Txt x={3145} y={378} color="#ff6699" size={32} anchor="middle" family="DejaVu Sans Mono" style={{ fontWeight: 700 }}>SELL</Txt>
      <Txt x={3215} y={1421} color="#22e0e0" size={32} family="DejaVu Sans Mono" style={{ fontWeight: 700 }}>BUY</Txt>
      <Txt x={3176} y={1527} color="#22ff55" size={32} family="DejaVu Sans Mono" style={{ fontWeight: 700 }}>OPEN UP</Txt>
      <Txt x={3207} y={1633} color="#ff6699" size={32} family="DejaVu Sans Mono" style={{ fontWeight: 700 }}>SELL</Txt>

      {headers.map((h, i) => <Txt key={"h" + i} x={h[1]} y={2463} color="#222222" size={24} anchor="end">{h[0]}</Txt>)}
      {headerDividers.map((x) => <div key={"d" + x} style={{ position: "absolute", left: x, top: 2440, width: 2, height: 42, background: "#d4d4d4" }} />)}
    </div>
  );
}
